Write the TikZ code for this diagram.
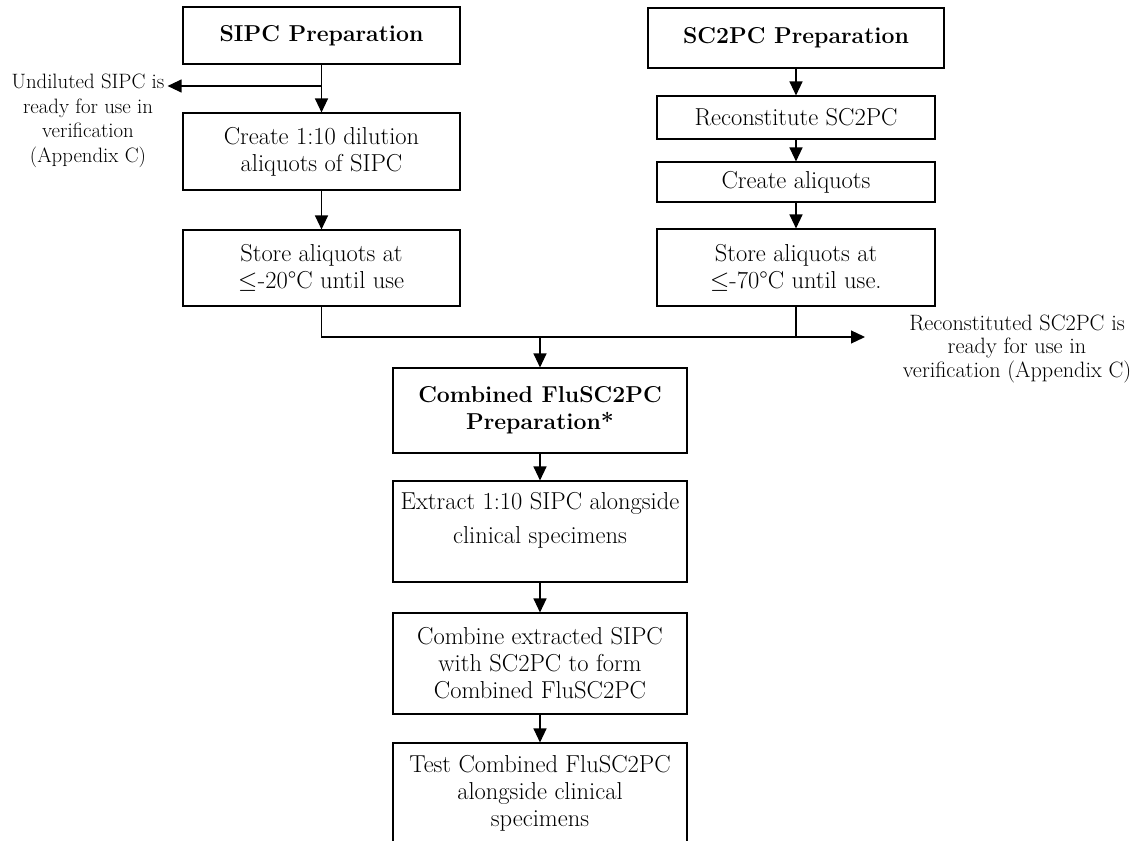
\documentclass[tikz,border=0pt]{standalone}
\usepackage{fontspec}
\usepackage{unicode-math}
\usetikzlibrary{arrows.meta}

\begin{document}
\begin{tikzpicture}[x=1pt, y=-1pt,
  box/.style={draw, line width=1.1pt, align=center, inner sep=2pt, font=\fontsize{24.5}{27}\selectfont},
  title/.style={box, font=\fontsize{23}{27}\selectfont\bfseries},
  note/.style={align=center, inner sep=3pt},
  arr/.style={line width=1.2pt, -{Triangle[length=14pt,width=13pt]}}]
\useasboundingbox (0,0) rectangle (1134,840);
\clip (0,0) rectangle (1134,840);
\node[title, minimum width=277pt, minimum height=57pt] (sipc) at (321.5,35.5) {SIPC Preparation};
\node[box, minimum width=277pt, minimum height=77pt] (dil) at (321.5,151.5) {Create 1:10 dilution\\aliquots of SIPC};
\node[box, minimum width=277pt, minimum height=76pt] (store20) at (321.5,268) {Store aliquots at\\$\leq$-20°C until use};
\node[title, minimum width=296pt, minimum height=60pt] (sc2pc) at (796,38) {SC2PC Preparation};
\node[box, minimum width=278pt, minimum height=43pt] (recon) at (796,117.5) {Reconstitute SC2PC};
\node[box, minimum width=278pt, minimum height=40pt] (aliq) at (796,182) {Create aliquots};
\node[box, minimum width=278pt, minimum height=77pt] (store70) at (796,267.5) {Store aliquots at\\$\leq$-70°C until use.};
\node[title, minimum width=294pt, minimum height=85pt] (comb) at (540,410.5) {Combined FluSC2PC\\Preparation*};
\node[box, minimum width=294pt, minimum height=101pt] (extract) at (540,531.5) {};
\node[note, font=\fontsize{24.5}{27}\selectfont] (extracttxt) at ([yshift=11pt]extract.center) {Extract 1:10 SIPC alongside\\[7pt]clinical specimens};
\node[box, minimum width=294pt, minimum height=101pt] (mix) at (540,663.5) {Combine extracted SIPC\\with SC2PC to form\\Combined FluSC2PC};
\node[box, minimum width=294pt, minimum height=100pt] (test) at (540,793) {Test Combined FluSC2PC\\alongside clinical\\specimens};
\node[note, font=\fontsize{20.8}{24.5}\selectfont] (undil) at (88,121) {Undiluted SIPC is\\ready for use in\\verification\\(Appendix C)};
\node[note, font=\fontsize{22.2}{23.3}\selectfont] (ready) at (1017,349) {Reconstituted SC2PC is\\ready for use in\\verification (Appendix C)};

\coordinate (split) at (sipc.south |- 0,86);
\coordinate (join) at (540,337);
\coordinate (rtip) at (865,337);

\draw[arr] (sipc) -- (dil);
\draw[arr] (split) -- (split -| undil.east);
\draw[arr] (dil) -- (store20);
\draw[arr] (sc2pc) -- (recon);
\draw[arr] (recon) -- (aliq);
\draw[arr] (aliq) -- (store70);
\draw[arr] (store20.south) |- (rtip);
\draw[line width=1.2pt] (store70.south) -- (store70.south |- rtip);
\draw[arr] (join) -- (comb);
\draw[arr] (comb) -- (extract);
\draw[arr] (extract) -- (mix);
\draw[arr] (mix) -- (test);
\end{tikzpicture}
\end{document}
